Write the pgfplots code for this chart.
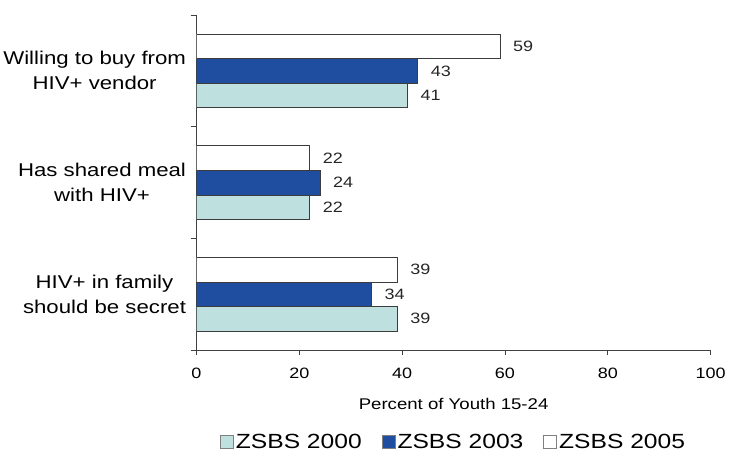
\documentclass[border=0pt]{standalone}
\usepackage{pgfplots}
\pgfplotsset{compat=1.18}
\usepackage{fontspec}
\setmainfont{Liberation Sans}[FakeStretch=1.2]
\definecolor{c2000}{RGB}{190,224,222}
\definecolor{c2003}{RGB}{31,78,160}
\definecolor{edge}{RGB}{60,60,60}
\pgfplotsset{
  sqlegend/.style={legend image code/.code={\draw[##1,draw=gray,line width=0.8pt] (0pt,-6pt) rectangle (13pt,7pt);}}
}
\begin{document}
\begin{tikzpicture}
\begin{axis}[
  name=ax,
  xbar,
  width=514pt, height=335pt, scale only axis,
  xmin=0, xmax=100, ymin=-0.5, ymax=2.5,
  axis x line*=bottom, axis y line*=left,
  axis line style={black!75, line width=0.8pt},
  xtick={0,20,40,60,80,100},
  ytick={0,1,2},
  yticklabels={{HIV+ in family\\should be secret},{Has shared meal\\with HIV+},{Willing to buy from\\HIV+ vendor}},
  minor ytick={-0.5,0.5,1.5,2.5},
  major y tick style={draw=none},
  tick align=outside,
  tick style={black!75, line width=0.8pt},
  major tick length=5pt, minor tick length=6pt,
  /pgf/number format/assume math mode=true,
  xticklabel style={font=\fontsize{15}{18}\selectfont, yshift=-9pt},
  yticklabel style={align=center, font=\fontsize{18.5}{25}\selectfont, xshift=-2pt},
  xlabel={Percent of Youth 15-24},
  xlabel style={font=\fontsize{15.5}{18}\selectfont, yshift=-13pt},
  bar width=0.22,
  nodes near coords,
  nodes near coords style={font=\fontsize{15}{18}\selectfont, anchor=west, inner sep=0pt, xshift=13pt, text=black!85},
  legend columns=3,
  legend style={at={(0.5,0)}, anchor=north, yshift=-80pt, draw=none,
    font=\fontsize{20.5}{22}\selectfont,
    /tikz/every even column/.append style={column sep=18pt}},
]
\addplot[fill=c2000, draw=edge, line width=0.6pt, bar shift=-0.22, sqlegend] coordinates {(39,0) (22,1) (41,2)};
\addplot[fill=c2003, draw=edge, line width=0.6pt, bar shift=0, sqlegend] coordinates {(34,0) (24,1) (43,2)};
\addplot[fill=white, draw=edge, line width=0.6pt, bar shift=0.22, sqlegend] coordinates {(39,0) (22,1) (59,2)};
\legend{ZSBS 2000, ZSBS 2003, ZSBS 2005}
\end{axis}
\path (ax.north west) ++(0,15pt) coordinate (topspace);
\path (topspace) -- (ax.north west);
\end{tikzpicture}
\end{document}
